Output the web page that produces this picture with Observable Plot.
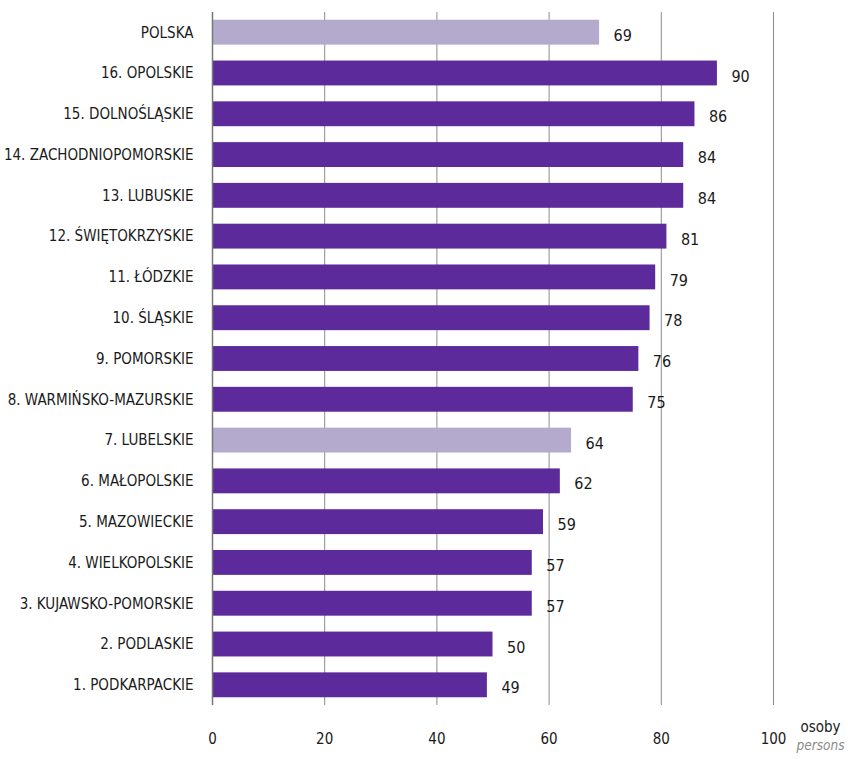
<!DOCTYPE html>
<html><head><meta charset="utf-8">
<script src="https://cdn.jsdelivr.net/npm/d3@7"></script>
<script src="https://cdn.jsdelivr.net/npm/@observablehq/plot@0.6"></script>
<style>
body{margin:0;background:#fff;}
#chart svg{font-family:"Liberation Sans Narrow","DejaVu Sans Condensed",sans-serif;}
</style></head>
<body><div id="chart"></div>
<script>
const regions = ["POLSKA","16. OPOLSKIE","15. DOLNOŚLĄSKIE","14. ZACHODNIOPOMORSKIE","13. LUBUSKIE","12. ŚWIĘTOKRZYSKIE","11. ŁÓDZKIE","10. ŚLĄSKIE","9. POMORSKIE","8. WARMIŃSKO-MAZURSKIE","7. LUBELSKIE","6. MAŁOPOLSKIE","5. MAZOWIECKIE","4. WIELKOPOLSKIE","3. KUJAWSKO-POMORSKIE","2. PODLASKIE","1. PODKARPACKIE"];
const values = [69,90,86,84,84,81,79,78,76,75,64,62,59,57,57,50,49];
const highlight = ["POLSKA","7. LUBELSKIE"];
const xTicks = [0,20,40,60,80,100];
const unitPl = "osoby";
const unitEn = "persons";

const data = regions.map((r,i)=>({region:r, value:values[i], light: highlight.includes(r)}));

const chart = Plot.plot({
  width: 848,
  height: 759,
  marginLeft: 212,
  marginRight: 75,
  marginTop: 12,
  marginBottom: 54,
  style: {fontSize: "15px", color: "#1a1a1a", background: "#fff"},
  x: {domain: [0,100], ticks: xTicks},
  y: {domain: regions, paddingInner: 0.39, paddingOuter: 0.19, round: false},
  marks: [
    Plot.ruleX(xTicks.slice(1), {stroke: "#8c8c8c", strokeWidth: 1, strokeOpacity: 1}),
    Plot.barX(data, {x: "value", y: "region", fill: d => d.light ? "#b4aace" : "#5d2a9b"}),
    Plot.ruleX([0], {stroke: "#777", strokeWidth: 1.5}),
    Plot.text(data, {x: "value", y: "region", text: d => String(d.value), textAnchor: "start", dx: 14, dy: 3, fontSize: 16, fill: "#1a1a1a"}),
    Plot.axisY({tickSize: 0, tickPadding: 19, fontSize: 15, label: null}),
    Plot.axisX({ticks: xTicks, tickSize: 0, tickPadding: 28, fontSize: 15, label: null}),
    Plot.text([unitPl], {x: () => 100, frameAnchor: "bottom", dx: 27, dy: 26, textAnchor: "start", fontSize: 15, fill: "#1a1a1a"}),
    Plot.text([unitEn], {x: () => 100, frameAnchor: "bottom", dx: 23, dy: 44, textAnchor: "start", fontSize: 13.5, fontStyle: "italic", fill: "#8a8a8a"})
  ]
});
document.getElementById("chart").appendChild(chart);
</script></body></html>
